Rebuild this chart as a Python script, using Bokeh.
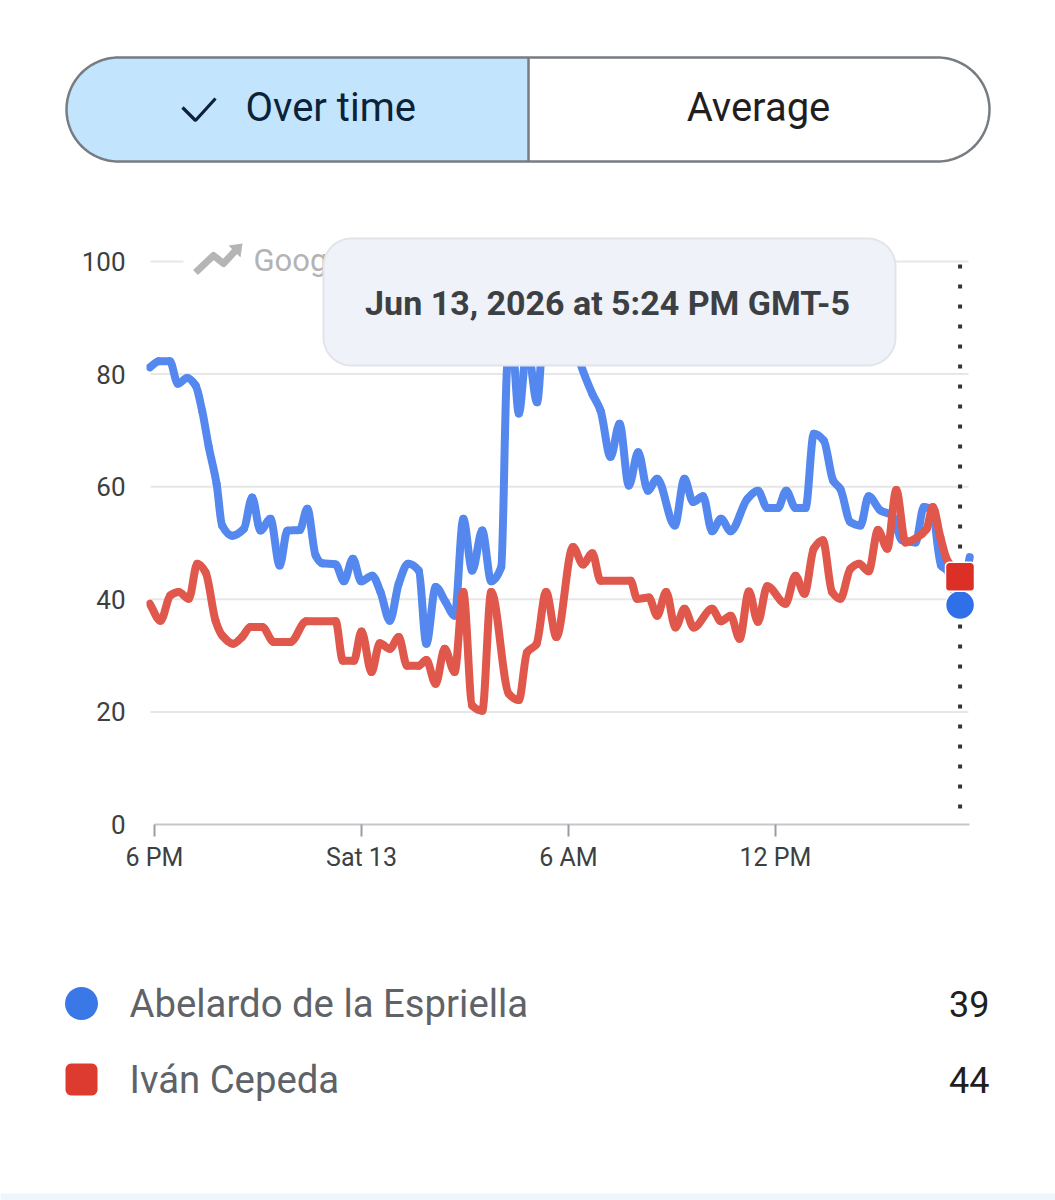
import numpy as np
from bokeh.core.properties import value
from bokeh.embed import file_html
from bokeh.layouts import column
from bokeh.models import FixedTicker, Range1d
from bokeh.plotting import figure
from bokeh.resources import INLINE

# ---- data ----
blue_hours = [-0.135,0.125,0.444,0.676,0.947,1.19,1.38,1.575,1.80,1.96,2.25,2.59,2.83,3.07,3.36,3.63,3.85,4.21,4.43,4.67,4.86,5.25,5.49,5.75,5.99,6.31,6.55,6.82,7.08,7.35,7.66,7.88,8.15,8.44,8.70,8.95,9.21,9.50,9.76,10.05,10.22,10.36,10.56,10.80,11.09,11.28,11.6,12.0,12.35,12.69,12.93,13.22,13.48,13.75,14.02,14.30,14.57,15.08,15.36,15.61,15.90,16.16,16.42,16.70,17.18,17.49,17.76,18.07,18.31,18.58,18.87,19.11,19.40,19.67,19.88,20.17,20.46,20.70,21.04,21.38,21.67,22.06,22.30,22.54,22.80,22.98,23.35,23.63]
blue_values = [81.2,82.3,82.3,78.3,79.3,78.0,73.5,67.0,60.5,53.1,51.3,52.5,58.1,52.2,54.3,46.0,52.2,52.3,56.1,47.8,46.4,46.2,43.2,47.2,43.2,44.2,41.3,36.2,42.8,46.3,45.1,32.1,42.2,39.5,37.1,54.3,45.1,52.2,43.2,45.7,81.2,86.0,73.0,85.0,75.0,88.0,92.0,90.0,81.8,76.5,73.5,65.3,71.2,60.2,66.1,59.3,61.4,53.1,61.4,57.3,58.3,52.1,54.3,52.1,57.8,59.3,56.2,56.2,59.3,56.2,56.2,69.4,68.2,61.1,59.6,53.7,53.1,58.3,55.8,54.9,50.5,50.1,56.4,55.8,46.0,45.1,39.3,47.5]
red_hours = [-0.135,0.174,0.46,0.70,0.995,1.24,1.48,1.77,1.96,2.28,2.54,2.78,3.12,3.46,3.94,4.40,5.25,5.46,5.78,6.00,6.29,6.53,6.82,7.08,7.32,7.66,7.88,8.15,8.41,8.70,8.95,9.21,9.50,9.76,10.27,10.56,10.80,11.07,11.35,11.65,12.13,12.42,12.69,12.93,13.80,13.99,14.33,14.57,14.83,15.10,15.36,15.63,16.16,16.42,16.70,16.96,17.23,17.49,17.76,18.29,18.58,18.84,19.11,19.37,19.64,19.88,20.17,20.42,20.70,20.97,21.24,21.50,21.77,22.11,22.38,22.56,22.78,22.98,23.35]
red_values = [39.2,36.2,40.7,41.3,40.1,46.3,44.8,36.2,33.6,32.1,33.3,35.1,35.1,32.4,32.4,36.1,36.1,29.1,29.1,34.3,27.1,32.2,31.2,33.3,28.2,28.2,29.2,25.0,31.2,27.1,41.3,21.1,20.2,41.3,23.2,22.1,30.6,32.0,41.3,33.3,49.3,46.2,48.2,43.3,43.3,40.1,40.3,37.1,41.3,35.0,38.3,35.0,38.3,36.1,37.1,33.0,41.4,36.0,42.3,39.2,44.2,41.0,49.0,50.5,41.3,40.1,45.4,46.3,45.0,52.3,49.0,59.4,50.1,51.0,52.5,56.4,51.0,46.9,44.2]
series_names = ["Abelardo de la Espriella", "Iván Cepeda"]
current_values = [39, 44]
current_hour = 23.35
y_ticks = [0, 20, 40, 60, 80, 100]
x_ticks = [0, 6, 12, 18]
x_labels = {0: "6 PM", 6: "Sat 13", 12: "6 AM", 18: "12 PM"}
tooltip_text = "Jun 13, 2026 at 5:24 PM GMT-5"
buttons = ["Over time", "Average"]

FONT = value("Roboto")
W = 1055
TOP_H, CHART_H, LEG_H = 200, 700, 300


def rounded(x0, y0, x1, y1, rl, rr):
    """Outline of a rounded box; rl / rr are the left / right corner radii."""
    t = np.linspace(0, np.pi / 2, 24)
    xs, ys = [], []
    if rr > 0:
        xs += list(x1 - rr + rr * np.sin(t)); ys += list(y0 + rr - rr * np.cos(t))
        xs += list(x1 - rr + rr * np.cos(t)); ys += list(y1 - rr + rr * np.sin(t))
    else:
        xs += [x1, x1]; ys += [y0, y1]
    if rl > 0:
        xs += list(x0 + rl - rl * np.sin(t)); ys += list(y1 - rl + rl * np.cos(t))
        xs += list(x0 + rl - rl * np.cos(t)); ys += list(y0 + rl - rl * np.sin(t))
    else:
        xs += [x0, x0]; ys += [y1, y0]
    return xs + xs[:1], ys + ys[:1]


def curve(f, xs, ys, **kw):
    """Draw the series as a monotone curve through its own vertices."""
    x, y = np.asarray(xs, float), np.asarray(ys, float)
    dx = np.diff(x)
    s = np.diff(y) / dx
    m = np.zeros_like(x)
    m[0], m[-1] = s[0], s[-1]
    for i in range(1, len(x) - 1):
        if s[i - 1] * s[i] > 0:
            m[i] = 2 * s[i - 1] * s[i] / (s[i - 1] + s[i])
    f.bezier(x0=x[:-1], y0=y[:-1], x1=x[1:], y1=y[1:],
             cx0=x[:-1] + dx / 3, cy0=y[:-1] + m[:-1] * dx / 3,
             cx1=x[1:] - dx / 3, cy1=y[1:] - m[1:] * dx / 3,
             line_cap="round", **kw)


def page_fig(height, y0):
    f = figure(width=W, height=height, x_range=Range1d(0, W),
               y_range=Range1d(y0 + height, y0), output_backend="svg",
               toolbar_location=None, min_border=0, frame_align=False)
    f.axis.visible = False
    f.grid.visible = False
    f.outline_line_color = None
    f.background_fill_color = "white"
    return f


# ---- top toggle ----
top = page_fig(TOP_H, 0)
lx, ly = rounded(66, 57, 528, 161, 52, 0)
top.patch(lx, ly, fill_color="#c2e4fd", line_color=None)
ox, oy = rounded(66, 57, 989, 161, 52, 52)
top.line(ox, oy, line_color="#777c82", line_width=2.5)
top.line([528, 528], [57, 161], line_color="#777c82", line_width=2.5)
top.line([182, 195, 215], [107, 120, 98], line_color="#0c2238", line_width=3.2)
top.text([245], [107], text=[buttons[0]], text_font=FONT, text_font_size="40px",
         text_color="#0c2238", text_baseline="middle", text_align="left")
top.text([758], [107], text=[buttons[1]], text_font=FONT, text_font_size="40px",
         text_color="#1f1f1f", text_baseline="middle", text_align="center")

# ---- chart ----
PX0, PXH, PY0, PYV = 154.0, 34.5, 824.0, 5.63
hx = lambda px: (np.asarray(px, dtype=float) - PX0) / PXH
vy = lambda py: (PY0 - np.asarray(py, dtype=float)) / PYV

FRAME_L, FRAME_R = 146, 990
chart = figure(width=W, height=CHART_H,
               x_range=Range1d(float(hx(FRAME_L)), float(hx(FRAME_R))),
               y_range=Range1d(0, float(vy(200))),
               output_backend="svg", toolbar_location=None, frame_align=False,
               min_border_left=FRAME_L, min_border_right=W - FRAME_R,
               min_border_top=0, min_border_bottom=76)
chart.outline_line_color = None
chart.xgrid.visible = False
chart.ygrid.visible = False
GRID_L, GRID_R = float(hx(150)), float(hx(968))
chart.segment(x0=[GRID_L] * len(y_ticks[1:]), x1=[GRID_R] * len(y_ticks[1:]),
              y0=y_ticks[1:], y1=y_ticks[1:], line_color="#e7e7e7", line_width=2)

chart.xaxis.ticker = FixedTicker(ticks=x_ticks)
chart.xaxis.major_label_overrides = x_labels
chart.xaxis.bounds = (0, float(hx(969)))
chart.xaxis.axis_line_color = "#c4c7cb"
chart.xaxis.axis_line_width = 2
chart.xaxis.major_tick_line_color = "#9a9da1"
chart.xaxis.major_tick_line_width = 2
chart.xaxis.major_tick_out = 12
chart.xaxis.major_tick_in = 0
chart.xaxis.minor_tick_line_color = None
chart.xaxis.major_label_standoff = 6
chart.xaxis.major_label_text_font = "Roboto"
chart.xaxis.major_label_text_font_size = "25px"
chart.xaxis.major_label_text_color = "#3c4043"

chart.yaxis.ticker = FixedTicker(ticks=y_ticks)
chart.yaxis.axis_line_color = None
chart.yaxis.major_tick_line_color = None
chart.yaxis.minor_tick_line_color = None
chart.yaxis.major_tick_out = 0
chart.yaxis.major_tick_in = 0
chart.yaxis.major_label_standoff = 21
chart.yaxis.major_label_text_font = "Roboto"
chart.yaxis.major_label_text_font_size = "26px"
chart.yaxis.major_label_text_color = "#3c4043"

# watermark
chart.quad(left=[float(hx(183))], right=[float(hx(330))], top=[float(vy(236))],
           bottom=[float(vy(286))], fill_color="white", line_color=None)
chart.line(hx([195, 213, 223, 237]), vy([272, 255, 263, 248]), line_color="#b5b5b5",
           line_width=7, line_join="round")
chart.patch(hx([228, 242, 240]), vy([245, 243, 257]), fill_color="#b5b5b5", line_color=None)
chart.text([float(hx(253))], [float(vy(260))], text=["Google Trends"], text_font=FONT,
           text_font_size="31px", text_color="#b3b3b3", text_baseline="middle")

# series
curve(chart, blue_hours, blue_values, line_color="#5488ee", line_width=8)
curve(chart, red_hours, red_values, line_color="#e0574c", line_width=8)

# hover line
chart.line([current_hour, current_hour], [float(vy(808)), float(vy(259))], line_color="#333333",
           line_width=4, line_dash="4 16")

# tooltip
tx, ty = rounded(323, 238, 895, 365, 28, 28)
chart.patch(hx(tx), vy(ty), fill_color="#eff2f9", line_color="#e2e4e9", line_width=2)
chart.text([float(hx(607))], [float(vy(302))], text=[tooltip_text], text_font=FONT,
           text_font_size="34px", text_font_style="bold", text_color="#3c4043",
           text_align="center", text_baseline="middle")

# current markers
chart.scatter([current_hour], [current_values[0]], marker="circle", size=29, fill_color="#2f6fe8",
              line_color="white", line_width=1.5)
sx, sy = rounded(945, 561, 974, 590, 4, 4)
shift = float(vy(575.5)) - current_values[1]
chart.patch(hx(sx), vy(sy) - shift, fill_color="#dc3027", line_color="white", line_width=1.5)

# ---- legend ----
leg = page_fig(LEG_H, 900)
leg.scatter([81], [1003], marker="circle", size=33, fill_color="#3a78e8", line_color=None)
qx, qy = rounded(65, 1063, 97, 1095, 6, 6)
leg.patch(qx, qy, fill_color="#dd3a30", line_color=None)
leg.text([129, 129], [1003, 1079], text=series_names, text_font=FONT, text_font_size="38.3px",
         text_color="#5f6368", text_baseline="middle")
leg.text([989, 989], [1003, 1079], text=[str(v) for v in current_values], text_font=FONT,
         text_font_size="36px", text_color="#1f1f1f", text_baseline="middle", text_align="right")
leg.quad(left=[0], right=[W], top=[1193], bottom=[1200], fill_color="#eef5fb", line_color=None)

page = column(top, chart, leg, spacing=0)
open("out.html", "w").write(file_html(page, INLINE))
